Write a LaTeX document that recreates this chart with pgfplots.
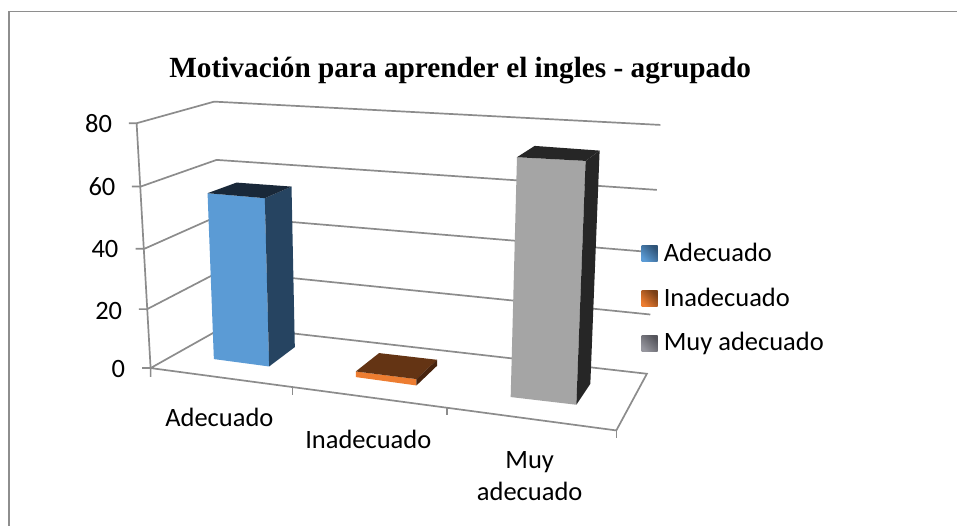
\documentclass[border=0pt]{standalone}
\usepackage{pgfplots}
\pgfplotsset{compat=1.18}
\usepackage{fontspec}
\setmainfont{Carlito}
\newfontfamily\titlefont{Liberation Serif}[BoldFont={Liberation Serif Bold}]
\definecolor{grid}{HTML}{8C8C8C}
\definecolor{frame}{HTML}{8E8E8E}
\tikzset{
  grid line/.style={draw=grid, line width=1.7pt},
  tick line/.style={draw=grid, line width=1.1pt},
  lab/.style={anchor=base, font=\fontsize{26.5}{30}\selectfont, text=black, inner sep=0pt},
  leg/.style={anchor=base west, font=\fontsize{26.5}{30}\selectfont, text=black, inner sep=0pt},
}
\begin{document}
\begin{tikzpicture}
\begin{axis}[
  width=958pt, height=526pt, scale only axis,
  xmin=0, xmax=958, ymin=0, ymax=526, y dir=reverse,
  hide axis, clip=false,
  every axis plot/.append style={no marks},
]
% page and outer frame
\addplot[fill=white, draw=none] coordinates {(0,0)(958,0)(958,526)(0,526)} --cycle;
\addplot[draw=frame, line width=1.2pt] coordinates {(9,526)(9,11.3)(958,11.3)};
% back wall gridlines
\addplot[grid line] coordinates {(129,123.3)(136.7,123.3)(214.3,101.7)(660.7,125)};
\addplot[grid line] coordinates {(132,186.7)(140.7,186.7)(216.7,160)(657.3,190)};
\addplot[grid line] coordinates {(135.7,249)(144.3,249)(218.5,216)(654,252.5)};
\addplot[grid line] coordinates {(139,309.3)(147.3,309.3)(221,271)(650.7,314.7)};
\addplot[grid line] coordinates {(142.3,368.3)(150.7,368.3)(226,326)(647.3,374)(616.7,430.7)(150.7,368.3)};
% value axis
\addplot[grid line] coordinates {(136.7,123.3)(150.7,368.3)(150.7,377)};
% category ticks
\addplot[tick line] coordinates {(292.3,387.3)(292.3,395)};
\addplot[tick line] coordinates {(447.3,408)(447.3,415)};
\addplot[tick line] coordinates {(616.7,430.7)(616.7,438)};
% Adecuado bar
\addplot[fill={rgb,255:red,91;green,155;blue,213}, draw=none] coordinates {(207.7,193.3)(265,198.3)(269.3,366.7)(214,359.3)} --cycle;
\addplot[fill={rgb,255:red,38;green,68;blue,97}, draw=none] coordinates {(265,198.3)(291.7,186.7)(295,347.3)(269.3,366.7)} --cycle;
\addplot[fill={rgb,255:red,25;green,40;blue,57}, draw=none] coordinates {(207.7,193.3)(236.7,182.7)(291.7,186.7)(265,198.3)} --cycle;
% Inadecuado bar
\addplot[fill={rgb,255:red,237;green,125;blue,49}, draw=none] coordinates {(356,371.7)(416.7,379.3)(416.7,385.7)(356,377.3)} --cycle;
\addplot[fill={rgb,255:red,100;green,52;blue,20}, draw=none] coordinates {(356,371.7)(379.3,353.3)(437.3,360)(416.7,379.3)} --cycle;
\addplot[fill={rgb,255:red,72;green,36;blue,14}, draw=none] coordinates {(416.7,379.3)(437.3,360)(437.3,366)(416.7,385.7)} --cycle;
% Muy adecuado bar
\addplot[fill={rgb,255:red,165;green,165;blue,165}, draw=none] coordinates {(517.3,157.3)(586,161)(576.7,405)(511,397.3)} --cycle;
\addplot[fill={rgb,255:red,38;green,38;blue,38}, draw=none] coordinates {(586,161)(600,150.7)(590.7,384)(576.7,405)} --cycle;
\addplot[fill={rgb,255:red,38;green,38;blue,38}, draw=none] coordinates {(517.3,157.3)(535,146)(600,150.7)(586,161)} --cycle;
% legend keys
\addplot[draw=none, left color={rgb,255:red,47;green,84;blue,120}, right color={rgb,255:red,91;green,155;blue,213}, shading angle=-45] coordinates {(642,246)(658,246)(658,262)(642,262)} --cycle;
\addplot[draw=none, left color={rgb,255:red,122;green,63;blue,22}, right color={rgb,255:red,237;green,125;blue,49}, shading angle=-45] coordinates {(642,291)(658,291)(658,307)(642,307)} --cycle;
\addplot[draw=none, left color={rgb,255:red,85;green,85;blue,92}, right color={rgb,255:red,150;green,150;blue,158}, shading angle=-45] coordinates {(642,336)(658,336)(658,352)(642,352)} --cycle;
% text
\node[anchor=base, inner sep=0pt, font=\titlefont\bfseries\fontsize{29.3}{33}\selectfont] at (axis cs:460.5,78) {Motivación para aprender el ingles - agrupado};
\node[lab] at (axis cs:98.7,132.7) {80};
\node[lab] at (axis cs:102,196) {60};
\node[lab] at (axis cs:105,258) {40};
\node[lab] at (axis cs:108.8,319.3) {20};
\node[lab] at (axis cs:118.3,377.7) {0};
\node[lab] at (axis cs:219.5,426.7) {Adecuado};
\node[lab] at (axis cs:368.5,448.7) {Inadecuado};
\node[lab] at (axis cs:530,469) {Muy};
\node[lab] at (axis cs:530,500.7) {adecuado};
\node[leg] at (axis cs:664,262) {Adecuado};
\node[leg] at (axis cs:664,307) {Inadecuado};
\node[leg] at (axis cs:664,351) {Muy adecuado};
\path[use as bounding box] (axis cs:0,0) rectangle (axis cs:958,526);
\end{axis}
\end{tikzpicture}
\end{document}
